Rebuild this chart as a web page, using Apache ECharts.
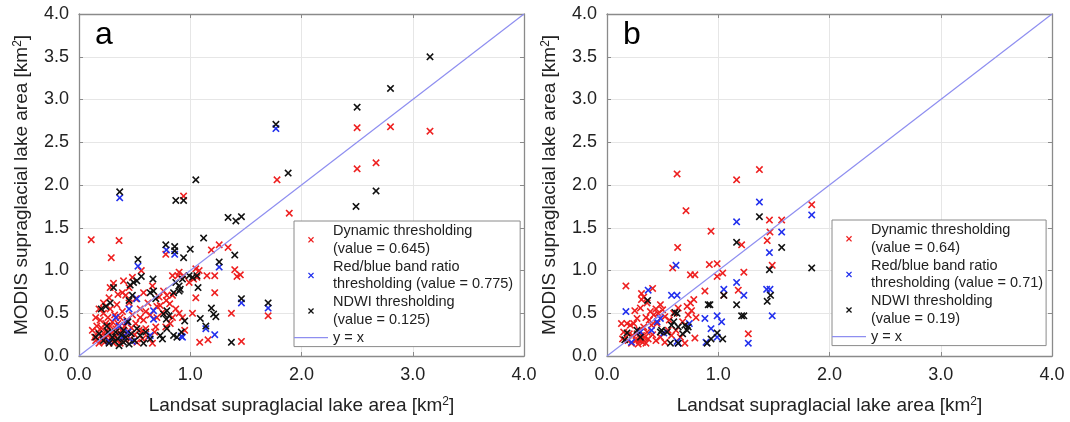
<!DOCTYPE html>
<html>
<head>
<meta charset="utf-8">
<title>MODIS vs Landsat supraglacial lake area</title>
<script src="https://cdn.jsdelivr.net/npm/echarts@6/dist/echarts.min.js"></script>
<style>
  html, body { margin: 0; padding: 0; background: #fff; }
  #chart { width: 1070px; height: 422px; }
</style>
</head>
<body>
<div id="chart"></div>
<script>
// axis range and ticks (same for both panels)
const axisMin = 0
const axisMax = 4
const xStep = 1
const yStep = 0.5

const xName = 'Landsat supraglacial lake area [km{sup|2}]'
const yName = 'MODIS supraglacial lake area [km{sup|2}]'
const panelLabels = ['a', 'b']

const namesA = [
  'Dynamic thresholding\n(value = 0.645)',
  'Red/blue band ratio\nthresholding (value = 0.775)',
  'NDWI thresholding\n(value = 0.125)',
  'y = x',
]
const namesB = [
  'Dynamic thresholding\n(value = 0.64)',
  'Red/blue band ratio\nthresholding (value = 0.71)',
  'NDWI thresholding\n(value = 0.19)',
  'y = x',
]

const identityLine = [[0, 0], [4, 4]]

// panel a: dynamic thresholding (red)
const dynamicA = [
  [0.11, 1.36], [0.36, 1.35], [0.29, 1.15], [0.94, 1.87], [1.78, 2.06], [1.89, 1.67], [2.50, 2.67],
  [2.80, 2.68], [3.155, 2.63], [2.50, 2.19], [2.67, 2.26], [0.78, 1.19], [1.19, 1.24], [1.26, 1.30],
  [1.34, 1.27], [1.40, 1.01], [1.42, 0.93], [1.45, 0.95], [0.56, 1.00], [0.84, 0.94], [0.89, 0.94],
  [0.94, 0.94], [1.08, 1.00], [1.15, 0.94], [1.22, 0.94], [1.03, 0.90], [1.22, 0.74], [1.05, 0.68],
  [1.70, 0.47], [1.37, 0.50], [1.085, 0.16], [1.16, 0.19], [1.46, 0.17], [1.02, 0.50],
  [0.45, 0.80], [0.39, 0.74], [0.42, 0.71], [0.51, 0.67], [0.58, 0.74], [0.76, 0.76], [0.79, 0.71],
  [0.785, 0.65], [0.815, 0.61], [0.84, 0.71], [0.72, 0.69], [0.73, 0.59], [0.75, 0.51], [0.99, 0.86],
  [0.90, 0.98], [1.05, 1.02], [1.06, 0.92], [0.87, 0.55], [0.90, 0.50], [0.93, 0.45], [0.84, 0.45],
  [0.69, 0.34], [0.78, 0.34], [0.62, 0.62], [0.66, 0.82], [0.60, 0.52], [0.55, 0.45], [0.70, 0.45],
  [0.82, 0.38], [0.95, 0.30], [0.57, 0.29],
  [0.12, 0.30], [0.14, 0.22], [0.15, 0.18], [0.16, 0.35], [0.17, 0.28], [0.18, 0.15], [0.19, 0.42],
  [0.20, 0.24], [0.20, 0.33], [0.21, 0.20], [0.22, 0.50], [0.22, 0.27], [0.23, 0.16], [0.24, 0.38],
  [0.24, 0.22], [0.25, 0.30], [0.26, 0.45], [0.26, 0.18], [0.27, 0.25], [0.28, 0.35], [0.28, 0.55],
  [0.29, 0.20], [0.30, 0.28], [0.30, 0.40], [0.31, 0.15], [0.32, 0.48], [0.32, 0.23], [0.33, 0.32],
  [0.34, 0.60], [0.34, 0.18], [0.35, 0.38], [0.36, 0.26], [0.37, 0.45], [0.37, 0.15], [0.38, 0.30],
  [0.39, 0.52], [0.40, 0.22], [0.41, 0.35], [0.42, 0.18], [0.43, 0.42], [0.44, 0.28], [0.45, 0.62],
  [0.46, 0.20], [0.47, 0.33], [0.48, 0.48], [0.50, 0.25], [0.51, 0.38], [0.52, 0.16], [0.54, 0.30],
  [0.55, 0.55], [0.57, 0.20], [0.58, 0.42], [0.60, 0.32], [0.62, 0.22], [0.64, 0.48], [0.66, 0.15],
  [0.68, 0.28], [0.70, 0.58], [0.22, 0.62], [0.18, 0.55], [0.15, 0.45], [0.27, 0.68], [0.35, 0.72],
  [0.28, 0.80], [0.31, 0.85], [0.40, 0.88], [0.48, 0.92],
]
// panel a: red/blue band ratio thresholding (blue)
const ratioA = [
  [0.366, 1.85], [1.77, 2.66], [0.785, 1.24], [0.86, 1.19], [1.26, 1.04], [0.53, 1.05], [1.46, 0.62],
  [1.70, 0.56], [1.14, 0.32], [1.22, 0.25], [0.92, 0.23], [0.67, 0.53], [0.67, 0.43], [0.64, 0.24],
  [0.93, 0.22], [0.52, 0.67], [0.45, 0.55], [0.43, 0.40], [0.39, 0.22], [0.48, 0.17], [0.33, 0.45],
  [0.27, 0.17], [0.44, 0.28], [0.36, 0.35],
]
// panel a: NDWI thresholding (black)
const ndwiA = [
  [0.366, 1.92], [0.87, 1.82], [0.94, 1.82], [1.05, 2.06], [1.77, 2.71], [1.88, 2.14], [1.34, 1.62],
  [1.41, 1.58], [1.46, 1.63], [1.12, 1.38], [2.50, 2.91], [2.80, 3.13], [3.155, 3.50], [2.67, 1.93],
  [2.49, 1.75],
  [0.78, 1.30], [0.86, 1.28], [0.86, 1.23], [1.00, 1.25], [0.94, 1.15], [1.40, 1.18], [1.26, 1.10],
  [0.53, 1.13], [0.56, 0.93], [0.52, 0.88], [0.49, 0.86], [0.46, 0.83], [0.665, 0.90], [0.31, 0.80],
  [0.48, 0.71], [0.45, 0.65], [0.64, 0.74], [0.67, 0.76], [0.69, 0.67], [0.87, 0.86], [0.90, 0.82],
  [0.93, 0.90], [0.99, 0.94], [1.02, 0.92], [1.06, 0.94], [0.90, 0.76], [0.91, 0.78], [0.85, 0.74],
  [1.07, 0.80], [1.46, 0.67], [1.70, 0.62], [1.19, 0.56], [1.21, 0.49], [1.23, 0.46], [1.09, 0.44],
  [1.14, 0.35], [1.37, 0.16], [0.92, 0.28], [0.95, 0.41], [0.76, 0.49], [0.81, 0.47], [0.785, 0.43],
  [0.79, 0.53], [0.79, 0.32], [0.73, 0.24], [0.75, 0.20], [0.64, 0.20], [0.85, 0.24], [0.88, 0.22],
  [0.15, 0.22], [0.18, 0.26], [0.20, 0.55], [0.22, 0.18], [0.24, 0.58], [0.25, 0.35], [0.27, 0.15],
  [0.28, 0.62], [0.30, 0.22], [0.32, 0.17], [0.33, 0.28], [0.35, 0.20], [0.36, 0.12], [0.38, 0.25],
  [0.40, 0.16], [0.42, 0.22], [0.44, 0.40], [0.45, 0.14], [0.47, 0.26], [0.50, 0.18], [0.52, 0.32],
  [0.55, 0.24], [0.58, 0.15], [0.60, 0.28], [0.40, 0.30], [0.26, 0.28],
]

// panel b: dynamic thresholding (red)
const dynamicB = [
  [0.63, 2.13], [1.37, 2.18], [1.165, 2.06], [0.71, 1.70], [1.84, 1.77], [1.46, 1.59], [1.57, 1.59],
  [0.935, 1.46], [1.465, 1.45], [1.44, 1.35], [1.21, 1.30], [0.635, 1.27], [0.59, 1.03], [0.92, 1.07],
  [0.99, 1.08], [1.485, 1.06], [0.99, 0.93], [1.04, 0.97], [0.75, 0.95], [0.79, 0.95], [1.23, 0.98],
  [0.17, 0.82], [0.41, 0.79], [0.31, 0.73], [0.33, 0.69], [0.31, 0.66], [0.36, 0.62], [0.88, 0.76],
  [1.05, 0.71], [1.18, 0.77], [0.72, 0.58], [0.75, 0.62], [0.78, 0.66], [0.73, 0.48], [0.76, 0.53],
  [0.80, 0.45], [0.79, 0.21], [1.27, 0.26], [0.68, 0.40], [0.66, 0.22], [0.62, 0.30], [0.70, 0.15],
  [0.13, 0.38], [0.18, 0.38], [0.21, 0.36], [0.24, 0.38], [0.15, 0.28], [0.20, 0.26], [0.23, 0.24],
  [0.27, 0.26], [0.14, 0.20], [0.19, 0.18], [0.22, 0.15], [0.26, 0.18], [0.28, 0.14], [0.30, 0.20],
  [0.32, 0.16], [0.34, 0.22], [0.29, 0.30], [0.33, 0.34], [0.36, 0.28], [0.38, 0.42], [0.40, 0.36],
  [0.42, 0.48], [0.44, 0.55], [0.46, 0.50], [0.48, 0.60], [0.50, 0.54], [0.52, 0.46], [0.45, 0.38],
  [0.39, 0.52], [0.35, 0.45], [0.41, 0.25], [0.44, 0.18], [0.48, 0.22], [0.52, 0.16], [0.55, 0.30],
  [0.58, 0.24], [0.56, 0.42], [0.60, 0.50], [0.64, 0.56], [0.27, 0.44], [0.25, 0.53], [0.30, 0.56],
  [0.37, 0.20], [0.31, 0.24], [0.29, 0.18], [0.35, 0.15],
]
// panel b: red/blue band ratio thresholding (blue)
const ratioB = [
  [1.37, 1.80], [1.84, 1.65], [1.165, 1.57], [1.57, 1.45], [1.46, 1.21], [0.62, 1.06], [0.37, 0.77],
  [0.58, 0.71], [0.63, 0.71], [1.05, 0.78], [1.165, 0.86], [1.23, 0.71], [1.435, 0.78], [1.465, 0.78],
  [1.485, 0.47], [0.99, 0.47], [1.03, 0.40], [0.88, 0.44], [0.935, 0.32], [0.89, 0.16], [1.27, 0.15],
  [0.17, 0.52], [0.30, 0.28], [0.45, 0.40], [0.48, 0.44], [0.51, 0.27], [0.64, 0.15], [0.63, 0.17],
  [0.74, 0.38], [0.99, 0.22], [0.22, 0.16], [0.40, 0.30],
]
// panel b: NDWI thresholding (black)
const ndwiB = [
  [1.37, 1.63], [1.165, 1.33], [1.57, 1.27], [1.46, 1.01], [1.84, 1.03], [1.05, 0.71], [1.47, 0.71],
  [1.44, 0.64], [1.165, 0.60], [1.21, 0.47], [1.23, 0.47], [0.925, 0.60], [0.99, 0.27], [0.935, 0.20],
  [1.04, 0.20], [0.73, 0.34], [0.63, 0.50], [0.57, 0.15], [0.64, 0.15], [0.48, 0.28], [0.49, 0.30],
  [0.54, 0.28], [0.365, 0.65], [0.61, 0.51], [0.18, 0.27], [0.16, 0.19], [0.58, 0.36], [0.60, 0.40],
  [0.64, 0.34], [0.70, 0.36], [0.72, 0.30], [0.68, 0.26], [0.91, 0.60], [0.90, 0.15], [0.30, 0.22],
  [0.27, 0.30],
]

const fontFamily = 'Liberation Sans, Arial, Helvetica, sans-serif'
const crossSymbol = 'path://M0,1.5L1.5,0L5,3.5L8.5,0L10,1.5L6.5,5L10,8.5L8.5,10L5,6.5L1.5,10L0,8.5L3.5,5Z'
// thin bar used as the legend icon of the y = x line
const lineIcon = 'path://M0,0L34,0L34,1.2L0,1.2Z'
const colors = ['#ee2020', '#2230ee', '#111111']
const lineColor = '#8e8ef0'
const frameColor = '#8a8a8a'

const grids = [
  { left: 79, top: 14, width: 445, height: 342 },
  { left: 607, top: 14, width: 445, height: 342 },
]

const supRich = {
  sup: { fontSize: 12, verticalAlign: 'top', fontFamily: fontFamily, color: '#222' },
}

const fmt = (v) => v.toFixed(1)

const xAxes = []
const yAxes = []
grids.forEach((g, i) => {
  const base = {
    type: 'value',
    gridIndex: i,
    min: axisMin,
    max: axisMax,
    axisLine: { show: true, onZero: false, lineStyle: { color: frameColor, width: 1.3 } },
    axisTick: { show: true, inside: true, length: 4, lineStyle: { color: frameColor } },
  }
  xAxes.push({
    ...base,
    interval: xStep,
    position: 'bottom',
    name: xName,
    nameLocation: 'middle',
    nameGap: 40,
    nameTextStyle: { fontSize: 19, color: '#222', fontFamily: fontFamily, rich: supRich },
    axisLabel: { formatter: fmt, fontSize: 18, color: '#222', margin: 10, fontFamily: fontFamily },
    splitLine: { show: true, lineStyle: { color: '#e6e6e6', width: 1 } },
  })
  xAxes.push({
    ...base,
    interval: xStep,
    position: 'top',
    axisLabel: { show: false },
    splitLine: { show: false },
  })
  yAxes.push({
    ...base,
    interval: yStep,
    position: 'left',
    name: yName,
    nameLocation: 'middle',
    nameGap: 48,
    nameTextStyle: { fontSize: 19, color: '#222', fontFamily: fontFamily, rich: supRich },
    axisLabel: { formatter: fmt, fontSize: 18, color: '#222', margin: 10, fontFamily: fontFamily },
    splitLine: { show: true, lineStyle: { color: '#e6e6e6', width: 1 } },
  })
  yAxes.push({
    ...base,
    interval: yStep,
    position: 'right',
    axisLabel: { show: false },
    splitLine: { show: false },
  })
})

const scatterSeries = (name, data, color, panel) => ({
  name: name,
  type: 'scatter',
  xAxisIndex: panel * 2,
  yAxisIndex: panel * 2,
  data: data,
  symbol: crossSymbol,
  symbolSize: 7.5,
  itemStyle: { color: color, opacity: 1 },
  emphasis: { disabled: true },
  silent: true,
})

const lineSeries = (panel) => ({
  name: 'y = x',
  type: 'line',
  xAxisIndex: panel * 2,
  yAxisIndex: panel * 2,
  data: identityLine,
  symbol: 'none',
  showSymbol: false,
  lineStyle: { color: lineColor, width: 1.2 },
  itemStyle: { color: lineColor },
  silent: true,
})

const legendData = (names) => names.map((n, i) => (i === 3 ? { name: n, icon: lineIcon } : { name: n }))

const legendBase = {
  orient: 'vertical',
  itemWidth: 34,
  itemHeight: 6,
  itemGap: 0,
  backgroundColor: '#fff',
  borderColor: '#8a8a8a',
  borderWidth: 1,
  selectedMode: false,
  textStyle: { fontSize: 14.5, lineHeight: 17.8, color: '#222', fontFamily: fontFamily },
}

const chart = echarts.init(document.getElementById('chart'), null, { renderer: 'canvas' })

const option = {
  backgroundColor: '#fff',
  animation: false,
  grid: grids,
  xAxis: xAxes,
  yAxis: yAxes,
  legend: [
    { ...legendBase, data: legendData(namesA), left: 294, top: 221, padding: [1, 7, 0, 0] },
    { ...legendBase, data: legendData(namesB), left: 832, top: 220, padding: [1, 3, 0, 0] },
  ],
  graphic: panelLabels.map((t, i) => ({
    type: 'text',
    left: grids[i].left + 16,
    top: 19,
    style: { text: t, fontSize: 32, fill: '#000', fontFamily: fontFamily },
  })),
  series: [
    lineSeries(0),
    scatterSeries(namesA[0], dynamicA, colors[0], 0),
    scatterSeries(namesA[1], ratioA, colors[1], 0),
    scatterSeries(namesA[2], ndwiA, colors[2], 0),
    lineSeries(1),
    scatterSeries(namesB[0], dynamicB, colors[0], 1),
    scatterSeries(namesB[1], ratioB, colors[1], 1),
    scatterSeries(namesB[2], ndwiB, colors[2], 1),
  ],
}

chart.setOption(option)
window.addEventListener('resize', () => chart.resize())
</script>
</body>
</html>
